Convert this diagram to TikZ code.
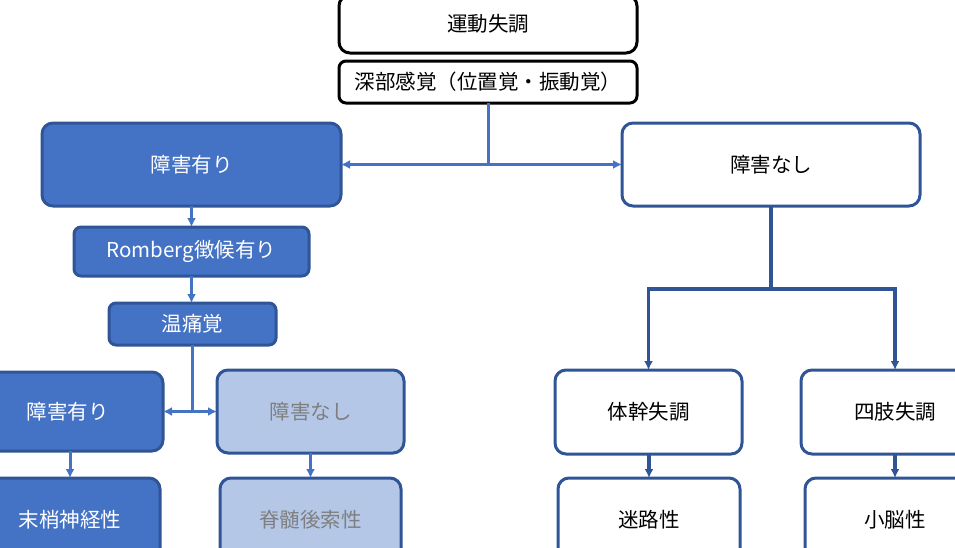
\documentclass[tikz,border=0pt]{standalone}
\usepackage{fontspec}
\setmainfont{Noto Sans CJK JP}
\usetikzlibrary{arrows.meta}
\definecolor{mblue}{HTML}{4472C4}
\definecolor{dblue}{HTML}{2F5597}
\definecolor{lblue}{HTML}{B4C7E7}
\definecolor{gtext}{HTML}{7F7F7F}
\tikzset{
  box/.style={rectangle, rounded corners=11pt, inner sep=0pt, outer sep=0pt, font=\fontsize{20.5}{24}\selectfont, line width=3pt},
  blackbox/.style={box, draw=black, fill=white, text=black},
  darkbox/.style={box, draw=dblue, fill=mblue, text=white},
  lightbox/.style={box, draw=dblue, fill=lblue, text=gtext},
  whitebox/.style={box, draw=dblue, fill=white, text=black},
  conn/.style={draw=mblue, line width=3pt, -{Latex[length=9pt,width=9pt]}},
  connr/.style={draw=dblue, line width=3.4pt, -{Latex[length=9pt,width=9pt]}},
  linel/.style={draw=mblue, line width=3pt},
  liner/.style={draw=dblue, line width=3.4pt},
}
\begin{document}
\begin{tikzpicture}[x=1pt,y=-1pt]
\useasboundingbox (0,0) rectangle (955,547);
\clip (0,0) rectangle (955,547);
% top
\node[blackbox, minimum width=298pt, minimum height=58pt] (top) at (488,24) {運動失調};
\node[blackbox, minimum width=298pt, minimum height=42pt, rounded corners=7pt] (deep) at (488,82) {深部感覚（位置覚・振動覚）};
% level 2
\node[darkbox, minimum width=299pt, minimum height=83pt] (yes1) at (191.5,164.5) {障害有り};
\node[whitebox, minimum width=298pt, minimum height=83pt] (no1) at (771,164.5) {障害なし};
\coordinate (j1) at (488,164.5);
\draw[linel] (deep.south) -- (j1);
\draw[conn] (j1) -- (yes1.east);
\draw[conn] (j1) -- (no1.west);
% left chain
\node[darkbox, minimum width=235pt, minimum height=49pt, rounded corners=7pt] (rom) at (191.5,251.5) {Romberg徴候有り};
\node[darkbox, minimum width=167pt, minimum height=42pt, rounded corners=7pt] (pain) at (192.5,324) {温痛覚};
\draw[conn] (yes1.south -| rom.north) -- (rom.north);
\draw[conn] (rom.south) -- (rom.south |- pain.north);
\node[darkbox, minimum width=190pt, minimum height=79pt] (yes2) at (68,411.5) {障害有り};
\node[lightbox, minimum width=187pt, minimum height=83pt] (no2) at (310.5,411.5) {障害なし};
\coordinate (j2) at (192,411.5);
\draw[linel] (pain.south -| j2) -- (j2);
\draw[conn] (j2) -- (yes2.east);
\draw[conn] (j2) -- (no2.west);
\node[darkbox, minimum width=180pt, minimum height=83pt] (peri) at (70,519.5) {末梢神経性};
\node[lightbox, minimum width=181pt, minimum height=83pt] (spin) at (310.5,519.5) {脊髄後索性};
\draw[conn] (yes2.south -| peri.north) -- (peri.north);
\draw[conn] (no2.south) -- (spin.north);
% right branch
\node[whitebox, minimum width=187pt, minimum height=84pt] (trunk) at (648.5,412) {体幹失調};
\node[whitebox, minimum width=188pt, minimum height=84pt] (limb) at (895,412) {四肢失調};
\coordinate (jr) at (771,289);
\draw[liner] (no1.south) -- (jr);
\draw[connr] (jr) -| (trunk.north);
\draw[connr] (jr) -| (limb.north);
\node[whitebox, minimum width=182pt, minimum height=83pt] (laby) at (649,519.5) {迷路性};
\node[whitebox, minimum width=180pt, minimum height=83pt] (cere) at (895,519.5) {小脳性};
\draw[connr] (trunk.south -| laby.north) -- (laby.north);
\draw[connr] (limb.south) -- (cere.north);
\end{tikzpicture}
\end{document}
